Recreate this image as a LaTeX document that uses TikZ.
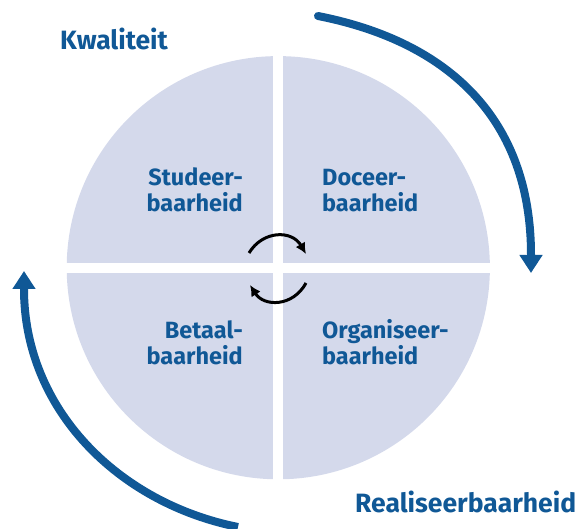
\documentclass[tikz,border=0pt]{standalone}
\usepackage{fontspec}
\setmainfont{Fira Sans}
\usetikzlibrary{arrows.meta}
\definecolor{rblue}{RGB}{16,88,150}
\definecolor{qfill}{RGB}{212,217,235}
\begin{document}
\begin{tikzpicture}[x=1pt,y=-1pt,
  lbl/.style={font=\bfseries\fontsize{23.5}{26}\selectfont, text=rblue, inner sep=0pt},
  outer/.style={font=\bfseries\fontsize{26.5}{30}\selectfont, text=rblue, inner sep=0pt},
  bigarrow/.style={draw=rblue, line width=8pt, -{Triangle[width=22pt,length=18pt]}},
  smallarrow/.style={draw=black, line width=3pt, -{Latex[length=11pt,width=11pt]}}]
\useasboundingbox (0,0) rectangle (584,529);
% circle split into quadrants
\fill[qfill] (278.3,267.7) circle[radius=211.6pt];
\fill[white] (273.3,40) rectangle (283.3,495);
\fill[white] (50,262.7) rectangle (510,272.7);
% labels
\node[outer, anchor=base west] (kw) at (60,50) {Kwaliteit};
\node[outer, anchor=base west] (re) at (355,512) {Realiseerbaarheid};
\node[lbl, align=right, anchor=base east] (st) at (243,212) {Studeer-\\baarheid};
\node[lbl, align=left, anchor=base west] (do) at (322,212) {Doceer-\\baarheid};
\node[lbl, align=right, anchor=base east] (be) at (243,365) {Betaal-\\baarheid};
\node[lbl, align=left, anchor=base west] (or) at (322,365) {Organiseer-\\baarheid};
% big arrows
\coordinate (ts) at (318,16);
\coordinate (tb) at (531,255);
\coordinate (tt) at (531,273);
\coordinate (bs) at (238,527);
\coordinate (bb) at (24,289);
\coordinate (bt) at (24,271);
\draw[bigarrow, line cap=round] (ts) .. controls (450,42) and (531,120) .. (tb) -- (tt);
\draw[bigarrow] (bs) .. controls (118,503) and (24,409) .. (bb) -- (bt);
% small arrows
\coordinate (us) at (249,253);
\coordinate (ue) at (306,254);
\coordinate (ls) at (306,283);
\coordinate (le) at (250,285);
\draw[smallarrow] (us) .. controls (263,230) and (292,230) .. (ue);
\draw[smallarrow] (ls) .. controls (293,307) and (264,307) .. (le);
\end{tikzpicture}
\end{document}
